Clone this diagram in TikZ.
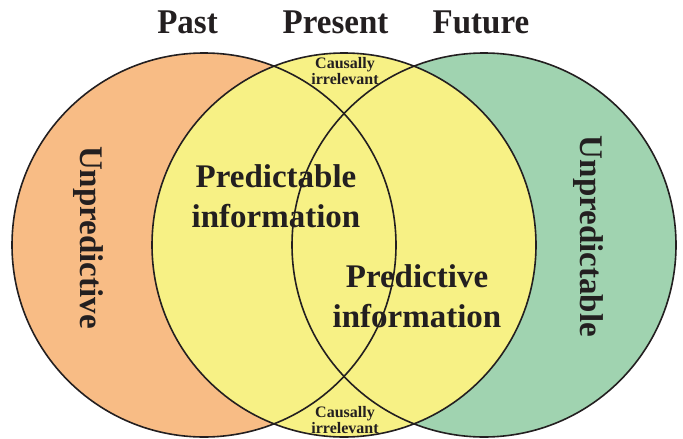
\documentclass[tikz,border=0pt]{standalone}
\usepackage{fontspec}
\setmainfont{Liberation Serif}
\definecolor{pastc}{RGB}{248,188,133}
\definecolor{futc}{RGB}{160,211,176}
\definecolor{presc}{RGB}{247,241,133}
\definecolor{txt}{RGB}{35,31,32}
\begin{document}
\begin{tikzpicture}[x=1pt,y=-1pt,
  ring/.style={draw=txt,line width=1.6pt},
  title/.style={font=\fontsize{33}{40}\selectfont\bfseries,text=txt,inner sep=0pt,anchor=base,yscale=1.05},
  big/.style={font=\fontsize{33}{40}\selectfont\bfseries,text=txt,inner sep=0pt,anchor=base},
  small/.style={font=\fontsize{16}{18}\selectfont\bfseries,text=txt,inner sep=0pt,anchor=base}]
\useasboundingbox (0,0) rectangle (683,439);
% fills
\fill[pastc] (204,245) circle[radius=192pt];
\fill[futc] (484,245) circle[radius=192pt];
\fill[presc] (344,245) circle[radius=192pt];
% outlines
\draw[ring] (204,245) circle[radius=192pt];
\draw[ring] (484,245) circle[radius=192pt];
\draw[ring] (344,245) circle[radius=192pt];
% titles
\node[title] (past) at (187.5,34) {Past};
\node[title] (present) at (335.5,34) {Present};
\node[title] (future) at (481,34) {Future};
% causally irrelevant
\node[small] (ct1) at (345,68.6) {Causally};
\node[small] (ct2) at (345,84) {irrelevant};
\node[small] (cb1) at (345,417.5) {Causally};
\node[small] (cb2) at (345,433.3) {irrelevant};
% center labels
\node[big] (pa1) at (276,187) {Predictable};
\node[big] (pa2) at (276,227) {information};
\node[big] (pb1) at (417,287) {Predictive};
\node[big] (pb2) at (417,327) {information};
% side labels
\node[big,rotate=-90] (unl) at (80,237.5) {Unpredictive};
\node[big,rotate=-90] (unr) at (580,236.5) {Unpredictable};
\end{tikzpicture}
\end{document}
